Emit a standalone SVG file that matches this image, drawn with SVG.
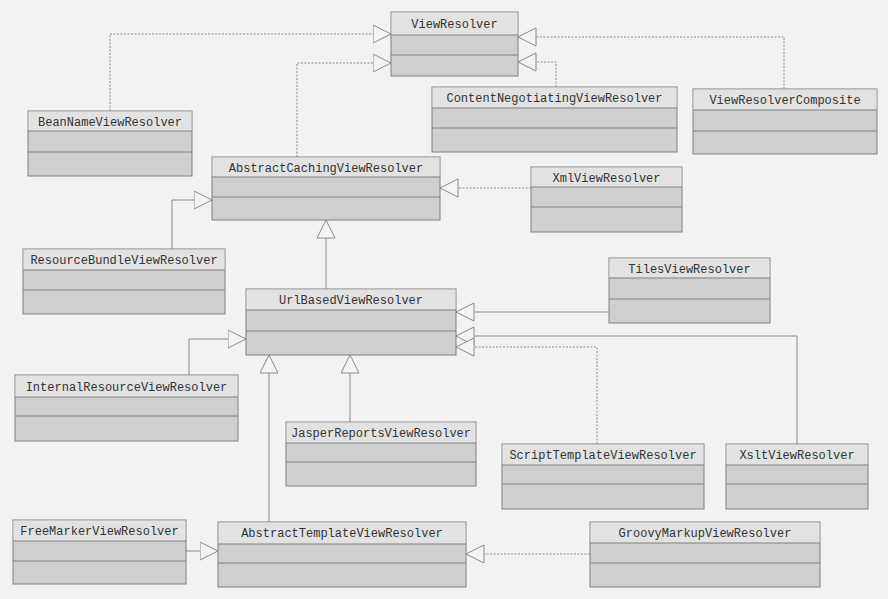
<svg xmlns="http://www.w3.org/2000/svg" width="888" height="599" viewBox="0 0 888 599">
<style>
.box{fill:#cfcfcf;stroke:#808080;stroke-width:1}
.ttl{fill:#e2e2e2;stroke:none}
.div{stroke:#808080;stroke-width:1}
.lbl{font-family:"Liberation Mono","DejaVu Sans Mono",monospace;font-size:12px;fill:#333;text-anchor:middle}
.c{fill:none;stroke:#8a8a8a;stroke-width:1}
.d{stroke-dasharray:2,1.5}
</style>
<defs>
<marker id="tri" markerUnits="userSpaceOnUse" markerWidth="20" markerHeight="20" viewBox="0 0 20 20" refX="18.5" refY="9.5" orient="auto">
<path d="M0.5,0.5 L18.5,9.5 L0.5,18.5 Z" fill="#f4f4f4" stroke="#8a8a8a" stroke-width="1"/>
</marker>
</defs>
<rect x="0" y="0" width="888" height="599" fill="#f2f2f2"/>
<g id="connectors">
<path class="c d" d="M110,111 V34 H391" marker-end="url(#tri)"/>
<path class="c d" d="M297,157 V63 H391" marker-end="url(#tri)"/>
<path class="c d" d="M784,89 V37 H518" marker-end="url(#tri)"/>
<path class="c d" d="M556,87 V62 H518" marker-end="url(#tri)"/>
<path class="c d" d="M531,188 H440" marker-end="url(#tri)"/>
<path class="c" d="M172,249 V200 H212" marker-end="url(#tri)"/>
<path class="c" d="M326,289 V220" marker-end="url(#tri)"/>
<path class="c" d="M189,375 V339 H246" marker-end="url(#tri)"/>
<path class="c" d="M609,312 H456" marker-end="url(#tri)"/>
<path class="c" d="M797,444 V336 H456" marker-end="url(#tri)"/>
<path class="c d" d="M597,444 V347 H456" marker-end="url(#tri)"/>
<path class="c" d="M269,522 V355" marker-end="url(#tri)"/>
<path class="c" d="M350,422 V355" marker-end="url(#tri)"/>
<path class="c" d="M186,551 H218" marker-end="url(#tri)"/>
<path class="c d" d="M590,554 H466" marker-end="url(#tri)"/>
</g>
<g id="ViewResolver"><rect class="box" x="391" y="12" width="127" height="64"/><rect class="ttl" x="391.5" y="12.5" width="126" height="22.5"/><line class="div" x1="391" y1="35" x2="518" y2="35"/><line class="div" x1="391" y1="55" x2="518" y2="55"/><text class="lbl" x="454.5" y="28">ViewResolver</text></g>
<g id="BeanNameViewResolver"><rect class="box" x="28" y="111" width="164" height="65"/><rect class="ttl" x="28.5" y="111.5" width="163" height="19.5"/><line class="div" x1="28" y1="131" x2="192" y2="131"/><line class="div" x1="28" y1="152" x2="192" y2="152"/><text class="lbl" x="110" y="126">BeanNameViewResolver</text></g>
<g id="AbstractCachingViewResolver"><rect class="box" x="212" y="157" width="228" height="63"/><rect class="ttl" x="212.5" y="157.5" width="227" height="19.5"/><line class="div" x1="212" y1="177" x2="440" y2="177"/><line class="div" x1="212" y1="197" x2="440" y2="197"/><text class="lbl" x="326" y="172">AbstractCachingViewResolver</text></g>
<g id="ContentNegotiatingViewResolver"><rect class="box" x="432" y="87" width="245" height="65"/><rect class="ttl" x="432.5" y="87.5" width="244" height="20.5"/><line class="div" x1="432" y1="108" x2="677" y2="108"/><line class="div" x1="432" y1="128" x2="677" y2="128"/><text class="lbl" x="554.5" y="102">ContentNegotiatingViewResolver</text></g>
<g id="ViewResolverComposite"><rect class="box" x="693" y="89" width="184" height="65"/><rect class="ttl" x="693.5" y="89.5" width="183" height="20.5"/><line class="div" x1="693" y1="110" x2="877" y2="110"/><line class="div" x1="693" y1="131" x2="877" y2="131"/><text class="lbl" x="785" y="104">ViewResolverComposite</text></g>
<g id="XmlViewResolver"><rect class="box" x="531" y="167" width="151" height="65"/><rect class="ttl" x="531.5" y="167.5" width="150" height="19.5"/><line class="div" x1="531" y1="187" x2="682" y2="187"/><line class="div" x1="531" y1="207" x2="682" y2="207"/><text class="lbl" x="606.5" y="182">XmlViewResolver</text></g>
<g id="ResourceBundleViewResolver"><rect class="box" x="23" y="249" width="202" height="65"/><rect class="ttl" x="23.5" y="249.5" width="201" height="20.5"/><line class="div" x1="23" y1="270" x2="225" y2="270"/><line class="div" x1="23" y1="290" x2="225" y2="290"/><text class="lbl" x="124" y="264">ResourceBundleViewResolver</text></g>
<g id="UrlBasedViewResolver"><rect class="box" x="246" y="289" width="210" height="66"/><rect class="ttl" x="246.5" y="289.5" width="209" height="20.5"/><line class="div" x1="246" y1="310" x2="456" y2="310"/><line class="div" x1="246" y1="331" x2="456" y2="331"/><text class="lbl" x="351" y="304">UrlBasedViewResolver</text></g>
<g id="TilesViewResolver"><rect class="box" x="609" y="258" width="161" height="65"/><rect class="ttl" x="609.5" y="258.5" width="160" height="19.5"/><line class="div" x1="609" y1="278" x2="770" y2="278"/><line class="div" x1="609" y1="299" x2="770" y2="299"/><text class="lbl" x="689.5" y="273">TilesViewResolver</text></g>
<g id="InternalResourceViewResolver"><rect class="box" x="15" y="375" width="223" height="66"/><rect class="ttl" x="15.5" y="375.5" width="222" height="21.5"/><line class="div" x1="15" y1="397" x2="238" y2="397"/><line class="div" x1="15" y1="416" x2="238" y2="416"/><text class="lbl" x="126.5" y="391">InternalResourceViewResolver</text></g>
<g id="JasperReportsViewResolver"><rect class="box" x="286" y="422" width="190" height="64"/><rect class="ttl" x="286.5" y="422.5" width="189" height="20.5"/><line class="div" x1="286" y1="443" x2="476" y2="443"/><line class="div" x1="286" y1="462" x2="476" y2="462"/><text class="lbl" x="381" y="437">JasperReportsViewResolver</text></g>
<g id="ScriptTemplateViewResolver"><rect class="box" x="502" y="444" width="202" height="65"/><rect class="ttl" x="502.5" y="444.5" width="201" height="20.5"/><line class="div" x1="502" y1="465" x2="704" y2="465"/><line class="div" x1="502" y1="484" x2="704" y2="484"/><text class="lbl" x="603" y="459">ScriptTemplateViewResolver</text></g>
<g id="XsltViewResolver"><rect class="box" x="726" y="444" width="142" height="65"/><rect class="ttl" x="726.5" y="444.5" width="141" height="20.5"/><line class="div" x1="726" y1="465" x2="868" y2="465"/><line class="div" x1="726" y1="484" x2="868" y2="484"/><text class="lbl" x="797" y="459">XsltViewResolver</text></g>
<g id="FreeMarkerViewResolver"><rect class="box" x="13" y="520" width="173" height="64"/><rect class="ttl" x="13.5" y="520.5" width="172" height="20.5"/><line class="div" x1="13" y1="541" x2="186" y2="541"/><line class="div" x1="13" y1="561" x2="186" y2="561"/><text class="lbl" x="99.5" y="535">FreeMarkerViewResolver</text></g>
<g id="AbstractTemplateViewResolver"><rect class="box" x="218" y="522" width="248" height="65"/><rect class="ttl" x="218.5" y="522.5" width="247" height="21.5"/><line class="div" x1="218" y1="544" x2="466" y2="544"/><line class="div" x1="218" y1="563" x2="466" y2="563"/><text class="lbl" x="342" y="537">AbstractTemplateViewResolver</text></g>
<g id="GroovyMarkupViewResolver"><rect class="box" x="590" y="522" width="230" height="65"/><rect class="ttl" x="590.5" y="522.5" width="229" height="20.5"/><line class="div" x1="590" y1="543" x2="820" y2="543"/><line class="div" x1="590" y1="563" x2="820" y2="563"/><text class="lbl" x="705" y="537">GroovyMarkupViewResolver</text></g>
</svg>
